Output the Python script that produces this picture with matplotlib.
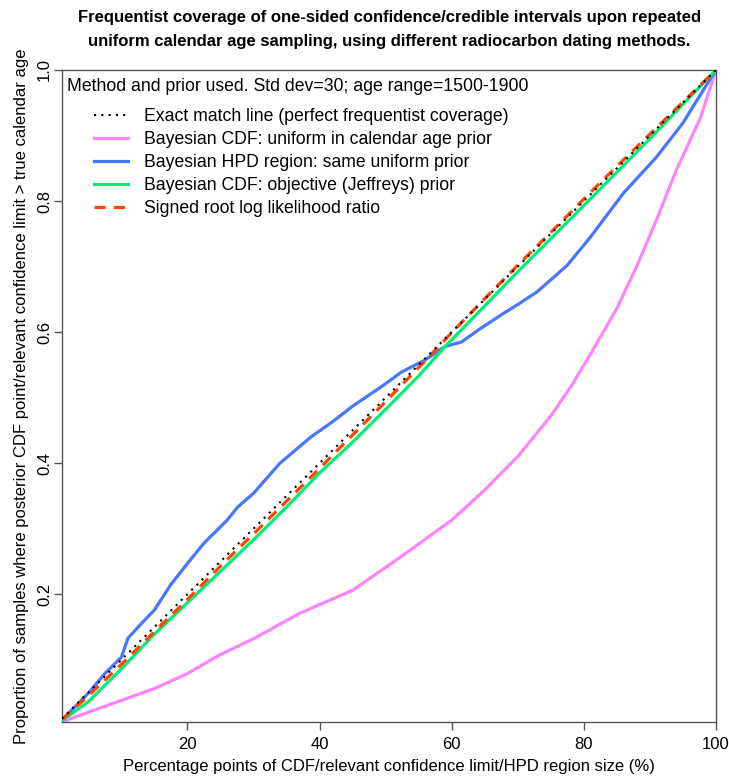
#!/usr/bin/env python3

"""
<file>    plot.py
<brief>   frequentist coverage of one-sided intervals, radiocarbon dating methods
"""

import matplotlib
matplotlib.use("Agg")
import matplotlib.pyplot as plt

plt.rcParams['font.family'] = ['Liberation Sans', 'DejaVu Sans']

# exact match line
exact_x = [1, 100]
exact_y = [0.01, 1.0]

# Bayesian CDF, uniform prior
unif_x = [1, 5, 10, 15, 20, 25, 30, 37, 45, 52, 60, 65, 70, 75, 78, 81, 85,
          88, 91, 94, 97.7, 100]
unif_y = [0.005, 0.020, 0.038, 0.056, 0.079, 0.108, 0.132, 0.171, 0.206,
          0.255, 0.313, 0.359, 0.410, 0.472, 0.516, 0.566, 0.636, 0.700,
          0.771, 0.847, 0.928, 1.0]

# Bayesian HPD region, uniform prior
hpd_x = [1, 5, 7.5, 10, 11, 13, 15, 17.5, 20, 22.5, 26, 27.6, 30, 34, 38.7,
         42.2, 45, 49.4, 52.4, 55.9, 59, 61.5, 64, 67.6, 70, 73, 77.5, 81,
         86, 91, 95, 100]
hpd_y = [0.008, 0.049, 0.079, 0.104, 0.133, 0.155, 0.176, 0.215, 0.247,
         0.278, 0.313, 0.333, 0.354, 0.400, 0.440, 0.465, 0.487, 0.517,
         0.539, 0.557, 0.578, 0.585, 0.603, 0.627, 0.642, 0.662, 0.702,
         0.745, 0.812, 0.867, 0.919, 1.0]

# Bayesian CDF, Jeffreys prior
jeff_x = [1, 5, 10, 15, 20, 25, 30, 35, 40, 45, 50, 55, 59, 65, 70, 80, 90, 100]
jeff_y = [0.007, 0.036, 0.086, 0.139, 0.187, 0.235, 0.283, 0.333, 0.385,
          0.432, 0.482, 0.533, 0.578, 0.640, 0.692, 0.793, 0.895, 1.0]

# signed root log likelihood ratio
srlr_x = [1, 5, 10, 15, 20, 25, 30, 35, 40, 45, 50, 55, 60, 65, 70, 75, 80,
          85, 90, 95, 100]
srlr_y = [0.009, 0.045, 0.093, 0.143, 0.192, 0.243, 0.292, 0.342, 0.392,
          0.443, 0.494, 0.546, 0.599, 0.651, 0.702, 0.752, 0.803, 0.853,
          0.902, 0.951, 1.0]

x_ticks = [20, 40, 60, 80, 100]
y_ticks = [0.2, 0.4, 0.6, 0.8, 1.0]

fig = plt.figure(figsize=(7.29, 7.76), dpi=100)
ax = fig.add_axes([0.085, 0.0696, 0.897, 0.8402])

lw = 2.3
p_unif, = ax.plot(unif_x, unif_y, color='#FF83FA', lw=lw, zorder=2)
p_hpd, = ax.plot(hpd_x, hpd_y, color='#4876FF', lw=lw, zorder=3)
p_jeff, = ax.plot(jeff_x, jeff_y, color='#00EE76', lw=lw, zorder=4)
p_srlr, = ax.plot(srlr_x, srlr_y, color='#FF4500', lw=lw, zorder=5,
                  dashes=(3.5, 2.5))
p_exact, = ax.plot(exact_x, exact_y, color='black', lw=1.5, zorder=6,
                   dashes=(1, 2.5))

ax.set_xlim(1, 100)
ax.set_ylim(0.005, 1.0)
ax.set_xticks(x_ticks)
ax.set_yticks(y_ticks)
ax.set_xticklabels([str(v) for v in x_ticks], fontsize=12)
ax.set_yticklabels(['%.1f' % v for v in y_ticks], fontsize=12,
                   rotation=90, va='center')
ax.tick_params(direction='out', length=6, width=1, color='#555555', pad=5)
ax.tick_params(axis='y', pad=1)

for s in ax.spines.values():
    s.set_color('#555555')
    s.set_linewidth(1)

ax.set_xlabel("Percentage points of CDF/relevant confidence limit/HPD region size (%)",
              fontsize=12, labelpad=5)
ax.set_ylabel("Proportion of samples where posterior CDF point/relevant confidence limit > true calendar age",
              fontsize=12, labelpad=6)

fig.suptitle("Frequentist coverage of one-sided confidence/credible intervals upon repeated\n"
             "uniform calendar age sampling, using different radiocarbon dating methods.",
             x=0.534, y=0.987, fontsize=12, fontweight='bold', linespacing=1.75)

# legend title, then entries indented below it
ax.text(0.007, 0.975, "Method and prior used. Std dev=30; age range=1500-1900",
        transform=ax.transAxes, fontsize=12.7, ha='left', va='center')

ax.legend([p_exact, p_unif, p_hpd, p_jeff, p_srlr],
          ["Exact match line (perfect frequentist coverage)",
           "Bayesian CDF: uniform in calendar age prior",
           "Bayesian HPD region: same uniform prior",
           "Bayesian CDF: objective (Jeffreys) prior",
           "Signed root log likelihood ratio"],
          loc='upper left', bbox_to_anchor=(0.049, 0.941), frameon=False,
          fontsize=12.7, handlelength=1.95, handletextpad=0.9, labelspacing=0.33,
          borderaxespad=0.0, borderpad=0.0)

fig.savefig("out.png", dpi=100)
plt.close()
